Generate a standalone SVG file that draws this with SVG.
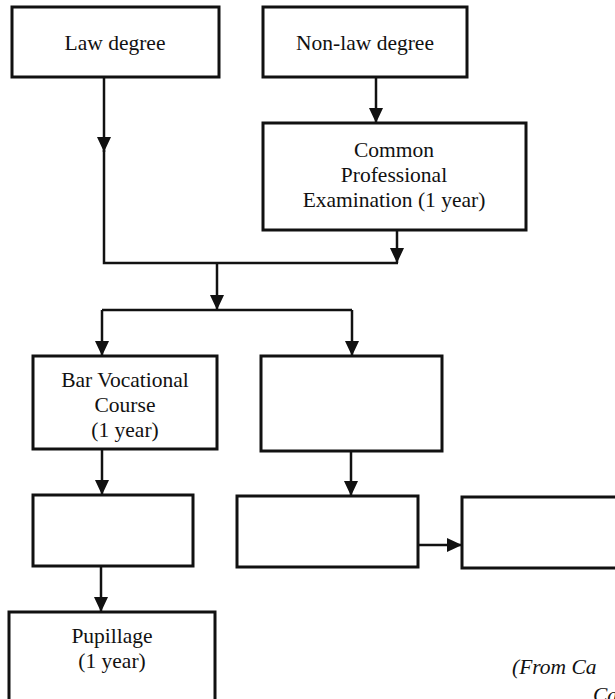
<svg xmlns="http://www.w3.org/2000/svg" width="615" height="699" viewBox="0 0 615 699">
  <defs>
    <marker id="arr" markerUnits="userSpaceOnUse" markerWidth="15" markerHeight="14" viewBox="0 0 15 14" refX="15" refY="7" orient="auto">
      <path d="M0,0 L15,7 L0,14 z" fill="#111"/>
    </marker>
    <style>
      .box { fill: #fff; stroke: #111; stroke-width: 3; }
      .lbl { font-family: "Liberation Serif", "Times New Roman", serif; font-size: 21.5px; fill: #111; text-anchor: middle; }
      .cite { font-family: "Liberation Serif", "Times New Roman", serif; font-size: 21.5px; font-style: italic; fill: #111; }
      .conn path { fill: none; stroke: #111; stroke-width: 2.5; }
    </style>
  </defs>
  <rect width="615" height="699" fill="#fff"/>

  <g id="connectors" class="conn">
    <path d="M104,77 V152" marker-end="url(#arr)"/>
    <path d="M104,150 V263 H398"/>
    <path d="M376,77 V123" marker-end="url(#arr)"/>
    <path d="M397,230 V263" marker-end="url(#arr)"/>
    <path d="M217,263 V310" marker-end="url(#arr)"/>
    <path d="M102,310 H352"/>
    <path d="M102,310 V356" marker-end="url(#arr)"/>
    <path d="M352,310 V356" marker-end="url(#arr)"/>
    <path d="M102,449 V495" marker-end="url(#arr)"/>
    <path d="M351,451 V496" marker-end="url(#arr)"/>
    <path d="M418,545 H462" marker-end="url(#arr)"/>
    <path d="M101,566 V612" marker-end="url(#arr)"/>
  </g>

  <g id="law-degree">
    <rect class="box" x="12" y="7" width="207" height="70"/>
    <text class="lbl" x="115" y="50">Law degree</text>
  </g>
  <g id="non-law-degree">
    <rect class="box" x="263" y="7" width="204" height="70"/>
    <text class="lbl" x="365" y="50">Non-law degree</text>
  </g>
  <g id="cpe">
    <rect class="box" x="263" y="123" width="263" height="107"/>
    <text class="lbl" x="394" y="157">Common</text>
    <text class="lbl" x="394" y="182">Professional</text>
    <text class="lbl" x="394" y="207">Examination (1 year)</text>
  </g>
  <g id="bvc">
    <rect class="box" x="33" y="356" width="184" height="93"/>
    <text class="lbl" x="125" y="387">Bar Vocational</text>
    <text class="lbl" x="125" y="412">Course</text>
    <text class="lbl" x="125" y="437">(1 year)</text>
  </g>
  <g id="mid-right">
    <rect class="box" x="261" y="356" width="181" height="95"/>
  </g>
  <g id="bottom-left">
    <rect class="box" x="33" y="495" width="160" height="71"/>
  </g>
  <g id="bottom-middle">
    <rect class="box" x="237" y="496" width="181" height="71"/>
  </g>
  <g id="bottom-right">
    <rect class="box" x="462" y="497" width="170" height="71"/>
  </g>
  <g id="pupillage">
    <rect class="box" x="9" y="612" width="206" height="100"/>
    <text class="lbl" x="112" y="643">Pupillage</text>
    <text class="lbl" x="112" y="668">(1 year)</text>
  </g>
  <g id="citation">
    <text class="cite" x="512" y="674">(From Ca</text>
    <text class="cite" x="593" y="702">Ca</text>
  </g>
</svg>
